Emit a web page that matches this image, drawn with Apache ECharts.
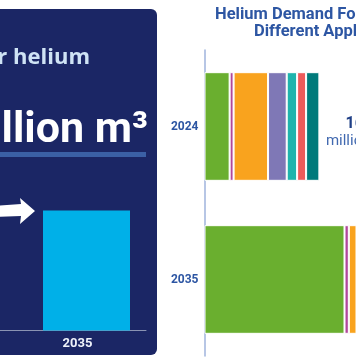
<!DOCTYPE html>
<html><head><meta charset="utf-8">
<script src="https://cdn.jsdelivr.net/npm/echarts@6/dist/echarts.min.js"></script>
<style>html,body{margin:0;padding:0;background:#fff}#c{width:356px;height:364px}</style>
</head><body><div id="c"></div>
<script>
// ---- data ----
const years = ['2024', '2035'];
const applications = ['Semiconductors', 'Fiber optics', 'MRI', 'Lifting gas', 'Welding', 'Leak detection', 'Other'];
const semiconductors = [35, 195];
const fiberOptics = [5.5, 6];
const mri = [48, 60];
const liftingGas = [26, 30];
const welding = [14.5, 18];
const leakDetection = [12.5, 15];
const other = [18.5, 25];
const appColors = ['#6aaf2f', '#b1479b', '#f9a31e', '#7f78b6', '#1fb4ad', '#ee5b5b', '#007a7b'];
const forecastYear = ['2035'];
const forecastValue = [280];
const unitLabel = 'million m³';

const seriesValues = [semiconductors, fiberOptics, mri, liftingGas, welding, leakDetection, other];
const totals2024 = seriesValues.reduce((s, arr) => s + arr[0], 0);

const chart = echarts.init(document.getElementById('c'), null, {renderer: 'canvas'});
const FONT = 'Roboto';

const stackSeries = seriesValues.map((vals, i) => ({
  name: applications[i],
  type: 'bar',
  stack: 'demand',
  xAxisIndex: 1, yAxisIndex: 1,
  barCategoryGap: '29%',
  itemStyle: {color: appColors[i], borderColor: '#ffffff', borderWidth: 1},
  data: vals.map((v, j) => {
    const d = {value: v};
    if (i === seriesValues.length - 1 && j === 0) {
      d.label = {
        show: true, position: 'right', distance: 6, offset: [0, 6],
        formatter: '{n|' + Math.round(totals2024) + '}\n{u|' + unitLabel + '}',
        rich: {
          n: {fontFamily: FONT, fontSize: 16, fontWeight: 'bold', color: '#1f3f86', align: 'center', width: 68, lineHeight: 18},
          u: {fontFamily: FONT, fontSize: 15, color: '#4169b0', align: 'center', width: 68, lineHeight: 18}
        }
      };
    }
    return d;
  })
}));

chart.setOption({
  animation: false,
  backgroundColor: '#ffffff',
  textStyle: {fontFamily: FONT},
  graphic: [
    {type: 'rect', z: -10, shape: {x: -20, y: 9, width: 177, height: 346, r: 6}, style: {fill: '#1b2665'}},
    {type: 'text', z: 10, x: 90, y: 58, style: {text: 'Demand for helium', textAlign: 'right', textVerticalAlign: 'middle', fill: '#cfe3f5', font: 'bold 22px "Open Sans"'}},
    {type: 'text', z: 10, x: 148, y: 131, style: {text: forecastValue[0] + ' ' + unitLabel, textAlign: 'right', textVerticalAlign: 'middle', fill: '#ffffff', font: 'bold 43px Roboto'}},
    {type: 'rect', z: 10, shape: {x: -10, y: 152, width: 156, height: 5}, style: {fill: '#3b60a5'}},
    {type: 'polygon', z: 10, shape: {points: [[-5, 206], [21, 204], [20, 198], [35, 211], [20, 224], [21, 216], [-5, 217]]}, style: {fill: '#ffffff'}},
    {type: 'line', z: 10, shape: {x1: -5, y1: 330.5, x2: 28, y2: 330.5}, style: {stroke: '#8a93b3', lineWidth: 1}},
    {type: 'text', z: 10, x: 215, y: 15, style: {text: 'Helium Demand Forecast for', textVerticalAlign: 'middle', fill: '#2d56a3', font: 'bold 16.5px Roboto'}},
    {type: 'text', z: 10, x: 254, y: 32, style: {text: 'Different Applications', textVerticalAlign: 'middle', fill: '#2d56a3', font: 'bold 16.5px Roboto'}}
  ],
  grid: [
    {left: 27, right: 210, top: 159, bottom: 33.5, containLabel: false},
    {left: 204.5, right: 0, top: 50, bottom: 8, containLabel: false}
  ],
  xAxis: [
    {gridIndex: 0, type: 'category', data: forecastYear,
      axisLine: {show: true, lineStyle: {color: '#8a93b3', width: 1}},
      axisTick: {show: false},
      axisLabel: {color: '#eef2fa', fontFamily: FONT, fontWeight: 'bold', fontSize: 13, margin: 7, padding: [0, 18, 0, 0]}},
    {gridIndex: 1, type: 'value', min: 0, max: 211, show: false}
  ],
  yAxis: [
    {gridIndex: 0, type: 'value', min: 0, max: 400, show: false},
    {gridIndex: 1, type: 'category', data: years, inverse: true,
      axisLine: {show: true, lineStyle: {color: '#9fb3dd', width: 1.5}},
      axisTick: {show: false},
      axisLabel: {color: '#2d56a3', fontFamily: FONT, fontWeight: 'bold', fontSize: 12, margin: 6}}
  ],
  series: [
    {type: 'bar', name: 'Total demand', xAxisIndex: 0, yAxisIndex: 0, barWidth: 87,
      itemStyle: {color: '#00b0e8'}, data: forecastValue}
  ].concat(stackSeries)
});
</script>
</body></html>
